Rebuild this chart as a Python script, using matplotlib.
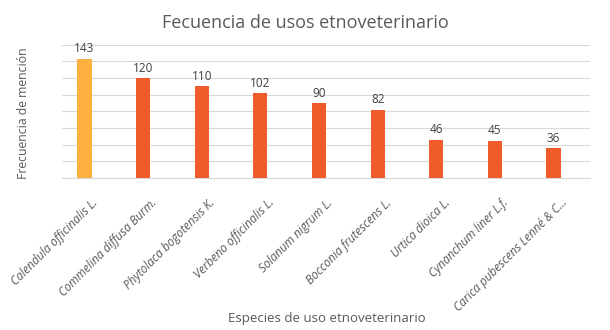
import numpy as np
import matplotlib
matplotlib.use("Agg")
import matplotlib.pyplot as plt

plt.rcParams['font.family'] = ['Open Sans', 'DejaVu Sans']

especies = ["Calendula officinalis L.", "Commelina diffusa Burm.",
            "Phytolaca bogotensis K.", "Verbeno officinalis L.",
            "Solanum nigrum L.", "Bocconia frutescens L.",
            "Urtica dioica L.", "Cynanchum liner L.f.",
            "Carica pubescens Lenné & C..."]
frecuencia = [143, 120, 110, 102, 90, 82, 46, 45, 36]
bar_colors = ['#FBB040'] + ['#F15A29'] * 8

gray = '#595959'

fig = plt.figure(figsize=(6.1, 3.3), dpi=100)
ax = fig.add_axes([0.102, 0.46, 0.865, 0.405])

x = np.arange(len(especies))
w = 0.24
ax.bar(x - w / 2, frecuencia, width=w, color=bar_colors, zorder=3)
for xi, v in zip(x, frecuencia):
    ax.text(xi - w / 2, v + 4, str(v), ha='center', va='bottom',
            fontsize=8.5, color='#404040', zorder=4)

ax.set_xlim(-0.5, len(especies) - 0.5)
ax.set_ylim(0, 160)
ax.set_yticks(np.arange(0, 161, 20))
ax.set_yticklabels([])
ax.tick_params(axis='y', length=0)
ax.yaxis.grid(True, color='#d9d9d9', linewidth=0.8, zorder=0)
for s in ['top', 'right', 'left']:
    ax.spines[s].set_visible(False)
ax.spines['bottom'].set_color('#d9d9d9')

ax.set_xticks(x)
ax.set_xticklabels(especies, rotation=45, ha='right', rotation_mode='anchor',
                   fontsize=8.5, fontstyle='italic', color=gray)
ax.tick_params(axis='x', length=0, pad=13)

fig.text(0.039, 0.657, 'Frecuencia de mención', rotation=90, ha='center',
         va='center', fontsize=8.8, color=gray)
fig.text(0.535, 0.036, 'Especies de uso etnoveterinario', ha='center',
         va='center', fontsize=9.5, color=gray)
fig.text(0.5, 0.915, 'Fecuencia de usos etnoveterinario', ha='center',
         fontsize=13, color=gray)

fig.savefig('out.png', dpi=100)
